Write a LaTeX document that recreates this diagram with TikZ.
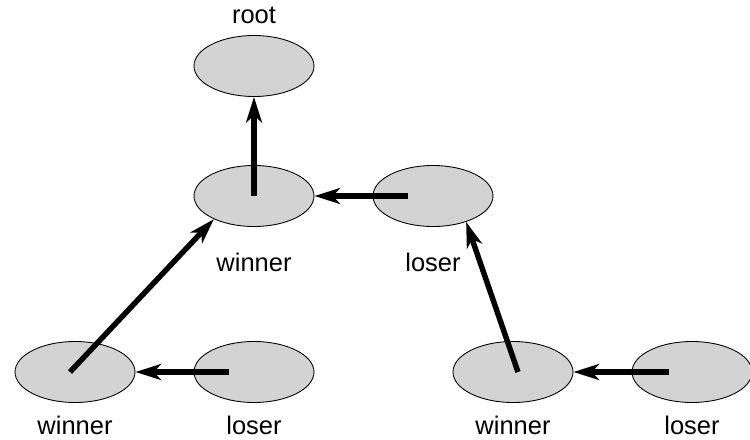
\documentclass[tikz,border=0pt]{standalone}
\usepackage{fontspec}
\setmainfont{Liberation Sans}
\usetikzlibrary{shapes, arrows.meta, positioning}
\usepackage{xcolor}
\definecolor{nodegray}{RGB}{211,211,211}
\tikzstyle{player} = [ellipse, minimum width=2.4cm, minimum height=1.22cm, draw=black, fill=nodegray, line width=0.5pt]
\tikzstyle{tag}    = [font=\fontsize{14.5}{17}\selectfont, inner sep=0pt]
\tikzstyle{arrow}  = [line width=3.1pt, -{Stealth[length=14.5pt, width=9pt, inset=4pt]}]

\begin{document}
\begin{tikzpicture}[node distance=3.58cm]
        \useasboundingbox (0,0) rectangle (15,-8.8);
        \node (win1) [player] at (5.08,-3.92) {};
        \node (root) [player, above of=win1, node distance=2.6cm]  {};
        \node (los1) [player, right of=win1] {};
        \node (los2) [player, below of=win1, node distance=3.52cm] {};
        \node (win2) [player, left of=los2]  {};
        \node (win3) [player, right of=los2, node distance=5.18cm] {};
        \node (los3) [player, right of=win3] {};

        % labels
        \node (rootlbl) [tag, above of=root, node distance=1.02cm] {root};
        \node (win1lbl) [tag, below of=win1, node distance=1.32cm] {winner};
        \node (los1lbl) [tag, below of=los1, node distance=1.32cm] {loser};
        \node (win2lbl) [tag, below of=win2, node distance=1.06cm] {winner};
        \node (los2lbl) [tag, below of=los2, node distance=1.06cm] {loser};
        \node (win3lbl) [tag, below of=win3, node distance=1.06cm] {winner};
        \node (los3lbl) [tag, below of=los3, node distance=1.06cm] {loser};

        \draw [arrow] (win1.center) -- (root.south);
        \draw [arrow] ([xshift=-0.5cm]los1.center) -- (win1.east);
        \draw [arrow] ([xshift=-0.1cm]win2.center) -- (win1.-150);
        \draw [arrow] ([xshift=-0.5cm]los2.center) -- (win2.east);
        \draw [arrow] ([xshift=0.1cm]win3.center) -- (los1.-38);
        \draw [arrow] ([xshift=-0.46cm]los3.center) -- (win3.east);
    \end{tikzpicture}
\end{document}
